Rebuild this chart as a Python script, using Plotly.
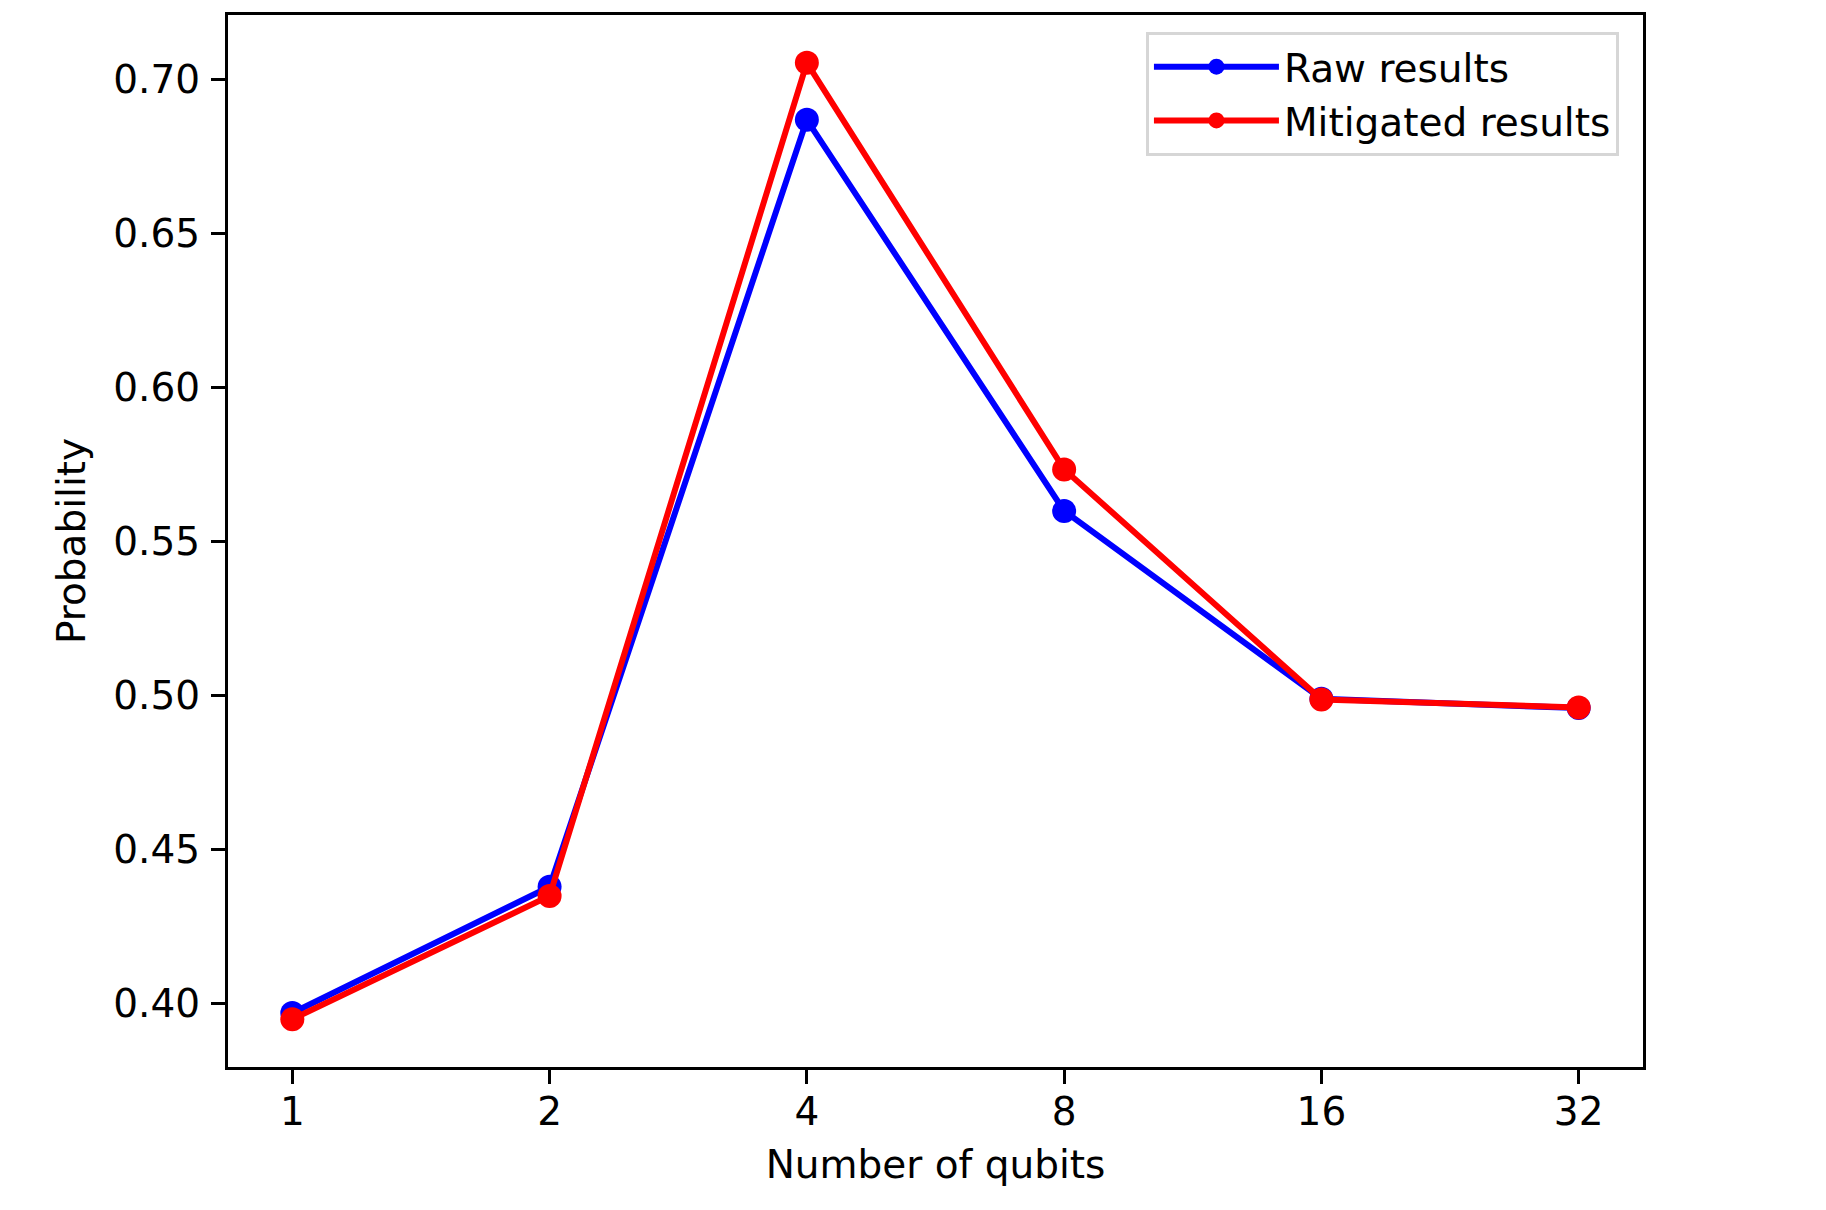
import plotly.graph_objects as go
import math

qubits = [1, 2, 4, 8, 16, 32]
tick_labels = ["1", "2", "4", "8", "16", "32"]
raw_results = [0.397, 0.438, 0.687, 0.560, 0.499, 0.496]
mitigated_results = [0.395, 0.435, 0.7055, 0.5735, 0.4988, 0.4962]
y_ticks = [0.40, 0.45, 0.50, 0.55, 0.60, 0.65, 0.70]

FONT = "DejaVu Sans"
fig = go.Figure()
fig.add_trace(go.Scatter(x=qubits, y=raw_results, mode="lines+markers", name="Raw results",
                         line=dict(color="#0000ff", width=6), marker=dict(color="#0000ff", size=24)))
fig.add_trace(go.Scatter(x=qubits, y=mitigated_results, mode="lines+markers", name="Mitigated results",
                         line=dict(color="#ff0000", width=6), marker=dict(color="#ff0000", size=24)))

lo = math.log10(1) - 0.25 * math.log10(2)
hi = math.log10(32) + 0.25 * math.log10(2)
allv = raw_results + mitigated_results
ymin, ymax = min(allv), max(allv)
pad = (ymax - ymin) * 0.05

fig.update_layout(
    width=1826, height=1210,
    margin=dict(l=228, r=183, t=13, b=143),
    paper_bgcolor="white", plot_bgcolor="white",
    font=dict(family=FONT, size=39, color="black"),
    showlegend=True,
    legend=dict(x=0.983, y=0.984, xanchor="right", yanchor="top",
                bgcolor="white", bordercolor="#d6d6d6", borderwidth=3,
                font=dict(size=39), itemwidth=125, itemsizing="trace", tracegroupgap=0),
    xaxis=dict(type="log", range=[lo, hi], tickvals=qubits, ticktext=tick_labels,
               showline=True, linecolor="black", linewidth=3.2, mirror=True,
               ticks="outside", ticklen=14, tickwidth=3.2, tickcolor="black",
               showgrid=False, zeroline=False, ticklabelstandoff=-6,
               title=dict(text="Number of qubits", font=dict(size=39), standoff=18)),
    yaxis=dict(range=[ymin - pad, ymax + pad], tickvals=y_ticks,
               tickformat=".2f",
               showline=True, linecolor="black", linewidth=3.2, mirror=True,
               ticks="outside", ticklen=14, tickwidth=3.2, tickcolor="black",
               showgrid=False, zeroline=False, ticklabelstandoff=3,
               title=dict(text="Probability", font=dict(size=39), standoff=16)),
)
fig.write_html("out.html", config={"displayModeBar": False},
               post_script="document.body.style.margin='0';")
